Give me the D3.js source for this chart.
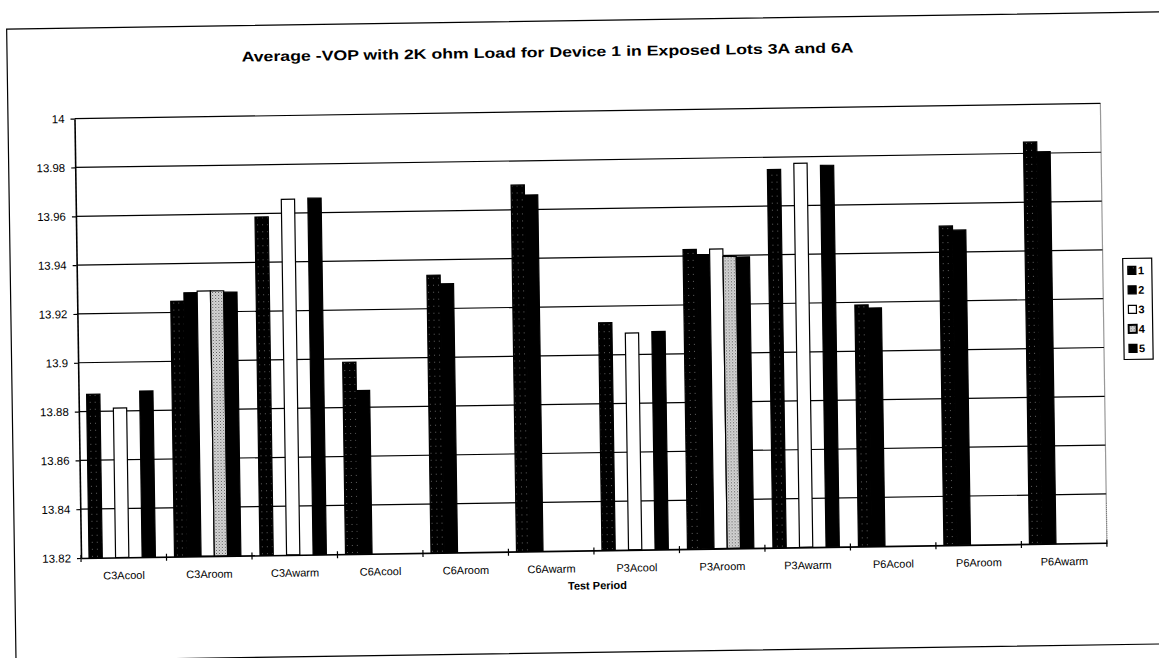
<!DOCTYPE html>
<html><head><meta charset="utf-8">
<script src="https://cdn.jsdelivr.net/npm/d3@7"></script>
<style>
body{margin:0;background:#fff;}
svg{display:block;font-family:"Liberation Sans",Arial,sans-serif;}
</style>
</head><body>
<svg id="chart" width="1159" height="658"></svg>
<script>
const chartTitle = "Average -VOP with 2K ohm Load for Device 1 in Exposed Lots 3A and 6A";
const xAxisTitle = "Test Period";
const categories = ["C3Acool","C3Aroom","C3Awarm","C6Acool","C6Aroom","C6Awarm","P3Acool","P3Aroom","P3Awarm","P6Acool","P6Aroom","P6Awarm"];
const seriesNames = ["1","2","3","4","5"];
const series1 = [13.887, 13.9246, 13.9586, 13.8986, 13.9337, 13.9701, 13.9132, 13.9427, 13.9749, 13.9189, 13.9507, 13.9846];
const series2 = [null, 13.928, null, 13.8869, 13.9301, 13.966, null, 13.9405, null, 13.9176, 13.949, 13.9806];
const series3 = [13.8812, 13.9286, 13.9657, null, null, null, 13.9088, 13.9427, 13.9773, null, null, null];
const series4 = [null, 13.9286, null, null, null, null, null, 13.9396, null, null, null, null];
const series5 = [13.888, 13.928, 13.966, null, null, null, 13.9093, 13.9393, 13.9763, null, null, null];
const yTickValues = [13.82, 13.84, 13.86, 13.88, 13.9, 13.92, 13.94, 13.96, 13.98, 14];
const yTickLabels = ["13.82","13.84","13.86","13.88","13.9","13.92","13.94","13.96","13.98","14"];

const allSeries = [series1, series2, series3, series4, series5];
const fills = ["url(#pat1)", "#000", "#fff", "url(#pat4)", "#000"];

const svg = d3.select("#chart");
const defs = svg.append("defs");
const p1 = defs.append("pattern").attr("id","pat1").attr("patternUnits","userSpaceOnUse").attr("width",5).attr("height",7);
p1.append("rect").attr("width",5).attr("height",7).attr("fill","#000");
p1.append("rect").attr("x",2).attr("y",3).attr("width",0.8).attr("height",0.8).attr("fill","#999");
const p4 = defs.append("pattern").attr("id","pat4").attr("patternUnits","userSpaceOnUse").attr("width",3).attr("height",3);
p4.append("rect").attr("width",3).attr("height",3).attr("fill","#d8d8d8");
p4.append("rect").attr("x",0).attr("y",0).attr("width",1).attr("height",1).attr("fill","#555");
p4.append("rect").attr("x",1.5).attr("y",1.5).attr("width",1).attr("height",1).attr("fill","#888");

const plotL = 81, plotR = 1107, plotT = 118.6, plotB = 558;
const g = svg.append("g").attr("transform", `rotate(-0.85, ${plotL}, ${plotB})`);

g.append("rect").attr("x",14.5).attr("y",28).attr("width",1220).attr("height",632)
  .attr("fill","none").attr("stroke","#000").attr("stroke-width",1.2);

g.append("text").attr("x",555).attr("y",64).attr("text-anchor","middle")
  .attr("font-size",14).attr("font-weight","bold")
  .attr("textLength",612).attr("lengthAdjust","spacingAndGlyphs")
  .text(chartTitle);

const x0 = d3.scaleBand().domain(categories).range([plotL, plotR]).paddingInner(0).paddingOuter(0);
const x1 = d3.scaleBand().domain(seriesNames).range([0, x0.bandwidth()]).paddingInner(0).paddingOuter(0.72).align(0.42);
const y = d3.scaleLinear().domain([13.82, 14]).range([plotB, plotT]);

g.append("g").selectAll("line").data(yTickValues.slice(1)).join("line")
  .attr("x1", plotL).attr("x2", plotR).attr("y1", d => y(d)).attr("y2", d => y(d))
  .attr("stroke","#000").attr("stroke-width",1.2);
g.append("line").attr("x1",plotR).attr("x2",plotR).attr("y1",plotT).attr("y2",plotB)
  .attr("stroke","#333").attr("stroke-width",1.2).attr("stroke-dasharray","1,1");

allSeries.forEach((vals, si) => {
  g.append("g").selectAll("rect")
    .data(categories.map((c, ci) => ({c, v: vals[ci]})).filter(d => d.v !== null))
    .join("rect")
    .attr("x", d => x0(d.c) + x1(seriesNames[si]))
    .attr("y", d => y(d.v))
    .attr("width", x1.bandwidth())
    .attr("height", d => plotB - y(d.v))
    .attr("fill", fills[si])
    .attr("stroke","#000").attr("stroke-width",1.2);
});

const yAxis = d3.axisLeft(y).tickValues(yTickValues).tickFormat((d, i) => yTickLabels[i])
  .tickSizeInner(4).tickSizeOuter(0).tickPadding(6);
const ya = g.append("g").attr("transform", `translate(${plotL},0)`).call(yAxis);
ya.select(".domain").attr("stroke","#000").attr("stroke-width",1.6);
ya.selectAll(".tick line").attr("stroke","#000").attr("stroke-width",1.2);
ya.selectAll("text").attr("font-size",11.5).attr("fill","#000").attr("font-family","Liberation Sans, Arial, sans-serif");

const xAxis = d3.axisBottom(x0).tickSize(0).tickPadding(14);
const xa = g.append("g").attr("transform", `translate(0,${plotB})`).call(xAxis);
xa.select(".domain").attr("stroke","#000").attr("stroke-width",1.6);
xa.selectAll("text").attr("font-size",11).attr("fill","#000").attr("font-family","Liberation Sans, Arial, sans-serif");
const boundaries = categories.map(c => x0(c)).concat([plotR]);
g.append("g").selectAll("line").data(boundaries).join("line")
  .attr("x1", d => d).attr("x2", d => d).attr("y1", plotB - 3).attr("y2", plotB + 4)
  .attr("stroke","#000").attr("stroke-width",1.2);

g.append("text").attr("x", (plotL + plotR) / 2 + 3).attr("y", 597).attr("text-anchor","middle")
  .attr("font-size",11).attr("font-weight","bold").text(xAxisTitle);

const lg = g.append("g");
lg.append("rect").attr("x",1127).attr("y",274).attr("width",29).attr("height",101)
  .attr("fill","#fff").attr("stroke","#000").attr("stroke-width",1.2);
seriesNames.forEach((s, i) => {
  const cy = 286 + i * 19.5;
  lg.append("rect").attr("x",1132).attr("y",cy - 4).attr("width",8).attr("height",8)
    .attr("fill", fills[i]).attr("stroke","#000").attr("stroke-width", i === 3 ? 2 : 1.2);
  lg.append("text").attr("x",1142).attr("y",cy).attr("dy","0.35em")
    .attr("font-size",11).attr("font-weight","bold").text(s);
});
</script>
</body></html>
